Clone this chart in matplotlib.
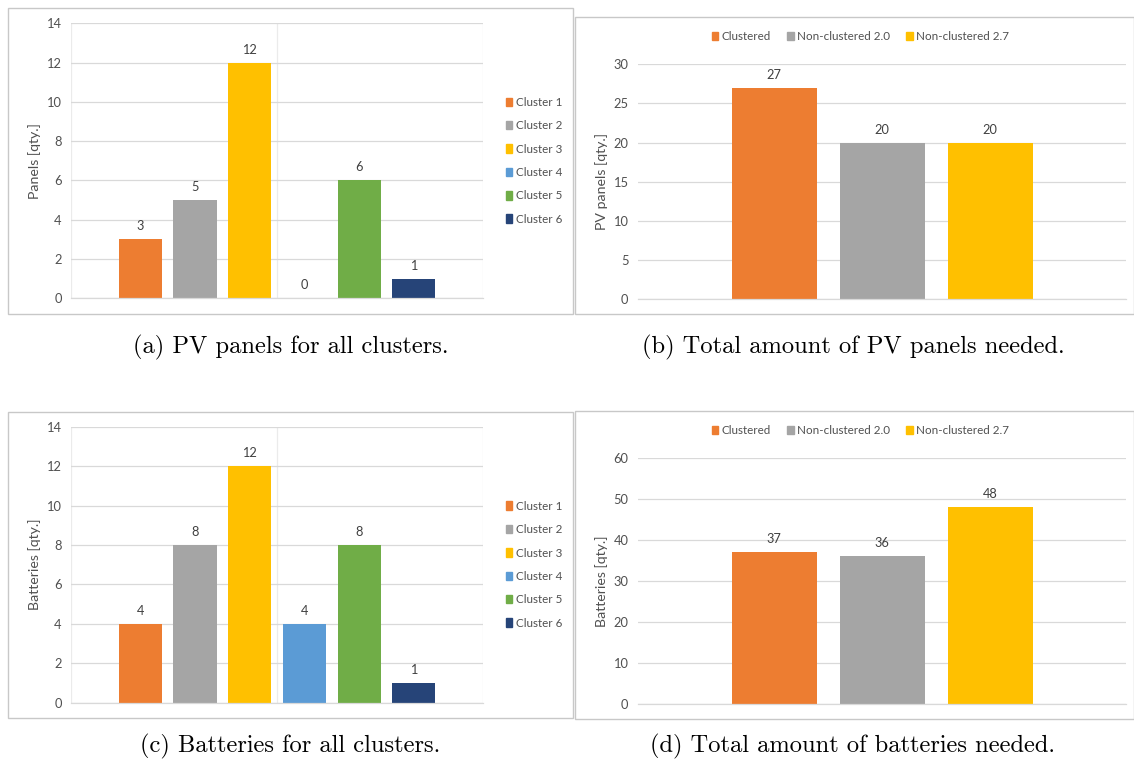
import matplotlib
matplotlib.use("Agg")
import matplotlib.pyplot as plt
from matplotlib.patches import Rectangle
import numpy as np

# ---------------- data ----------------
clusters = ["Cluster 1", "Cluster 2", "Cluster 3", "Cluster 4", "Cluster 5", "Cluster 6"]
panels_per_cluster = [3, 5, 12, 0, 6, 1]
batteries_per_cluster = [4, 8, 12, 4, 8, 1]

scenarios = ["Clustered", "Non-clustered 2.0", "Non-clustered 2.7"]
total_panels = [27, 20, 20]
total_batteries = [37, 36, 48]

cluster_colors = ["#ED7D31", "#A5A5A5", "#FFC000", "#5B9BD5", "#70AD47", "#264478"]
scenario_colors = ["#ED7D31", "#A5A5A5", "#FFC000"]

captions = ["(a) PV panels for all clusters.",
            "(b) Total amount of PV panels needed.",
            "(c) Batteries for all clusters.",
            "(d) Total amount of batteries needed."]

# ---------------- layout helpers ----------------
W, H = 1134, 763
fig = plt.figure(figsize=(W / 100, H / 100), dpi=100)
fig.patch.set_facecolor("white")

TXT = "#505050"
GRID = "#D9D9D9"
FONT = "Lato"
FS_TICK = 9.3
FS_LAB = 10.2
FS_LEG = 8.4
FS_DATA = 9.2


def ax_px(left, right, top, bottom):
    return fig.add_axes([left / W, 1 - bottom / H, (right - left) / W, (bottom - top) / H])


def border_px(left, right, top, bottom):
    fig.patches.append(Rectangle((left / W, 1 - bottom / H), (right - left) / W, (bottom - top) / H,
                                 transform=fig.transFigure, fill=False, edgecolor="#C8C8C8",
                                 linewidth=1.0, zorder=0))


def style_axes(ax, ymax, ystep, ylabel):
    ax.set_ylim(0, ymax)
    ax.set_yticks(np.arange(0, ymax + 0.1, ystep))
    ax.yaxis.grid(True, color=GRID, linewidth=0.9)
    ax.set_axisbelow(True)
    for s in ["top", "right", "left"]:
        ax.spines[s].set_visible(False)
    ax.spines["bottom"].set_color(GRID)
    ax.spines["bottom"].set_linewidth(0.9)
    ax.set_xticks([])
    ax.tick_params(axis="y", length=0, pad=7, labelsize=FS_TICK, labelcolor=TXT)
    for lab in ax.get_yticklabels():
        lab.set_fontfamily(FONT)
    ax.set_ylabel(ylabel, fontsize=FS_LAB, color=TXT, fontfamily=FONT, labelpad=4)
    ax.set_facecolor("none")


def label_bars(ax, bars, values, offset_px):
    for b, v in zip(bars, values):
        ax.annotate(str(v), (b.get_x() + b.get_width() / 2, v), xytext=(0, offset_px),
                    textcoords="offset pixels", ha="center", va="center",
                    fontsize=FS_DATA, color="#404040", fontfamily=FONT)


# ---------------- panels (a) and (c) ----------------
def cluster_panel(top, bottom, values, ymax, ylabel, btop, bbottom):
    border_px(7.5, 573, btop, bbottom)
    ax = ax_px(71.4, 482.8, top, bottom)
    x = np.arange(len(clusters))
    bars = ax.bar(x, values, width=0.79, color=cluster_colors, label=clusters,
                  edgecolor="none")
    ax.set_xlim(-1.26, 6.26)
    style_axes(ax, ymax, 2, ylabel)
    # light plot-area verticals
    for xv in (-1.26, 2.5, 6.26):
        ax.axvline(xv, color="#EBEBEB", linewidth=0.9, zorder=0)
    label_bars(ax, bars, values, 13)
    handles = [Rectangle((0, 0), 1, 1, color=c) for c in cluster_colors]
    leg = ax.legend(handles, clusters, loc="center left", bbox_to_anchor=(1.045, 0.5),
                    frameon=False, fontsize=FS_LEG, handlelength=0.55, handleheight=0.75,
                    handletextpad=0.35, labelspacing=1.06, borderaxespad=0)
    for t in leg.get_texts():
        t.set_color(TXT)
        t.set_fontfamily(FONT)
    return ax


cluster_panel(23.3, 298.3, panels_per_cluster, 14, "Panels [qty.]", 7.5, 314.3)
cluster_panel(426.7, 702.7, batteries_per_cluster, 14, "Batteries [qty.]", 411.7, 718.3)


# ---------------- panels (b) and (d) ----------------
def total_panel(top, bottom, values, ymax, ystep, ylabel, btop, bbottom, legy):
    border_px(575.4, 1133.5, btop, bbottom)
    ax = ax_px(638.3, 1125.8, top, bottom)
    x = np.arange(len(scenarios))
    bars = ax.bar(x, values, width=0.787, color=scenario_colors, edgecolor="none")
    ax.set_xlim(-1.257, 3.257)
    style_axes(ax, ymax, ystep, ylabel)
    label_bars(ax, bars, values, 13)
    handles = [Rectangle((0, 0), 1, 1, color=c) for c in scenario_colors]
    leg = fig.legend(handles, scenarios, loc="center", bbox_to_anchor=(860.5 / W, 1 - legy / H),
                     ncol=3, frameon=False, fontsize=FS_LEG, handlelength=0.55,
                     handleheight=0.75, handletextpad=0.3, columnspacing=1.4, borderaxespad=0)
    for t in leg.get_texts():
        t.set_color(TXT)
        t.set_fontfamily(FONT)
    return ax


total_panel(64.3, 299, total_panels, 30, 5, "PV panels [qty.]", 17.3, 314.3, 36.7)
total_panel(458, 704, total_batteries, 60, 10, "Batteries [qty.]", 410.7, 719.3, 430.7)

# ---------------- captions ----------------
cap_pos = [(290.5, 347), (853, 347), (290.5, 746), (853, 746)]
for (cx, cy), txt in zip(cap_pos, captions):
    fig.text(cx / W, 1 - cy / H, txt, ha="center", va="center", fontsize=17.6,
             fontfamily="cmr10", color="black")

fig.savefig("out.png", dpi=100, facecolor="white")
